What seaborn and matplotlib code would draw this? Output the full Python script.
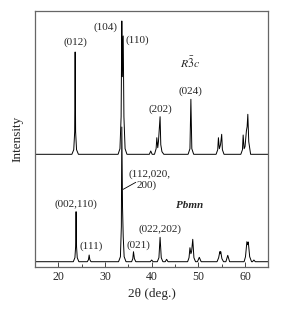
import numpy as np
import pandas as pd
import seaborn as sns
import matplotlib
matplotlib.use("Agg")
import matplotlib.pyplot as plt
from matplotlib.ticker import MultipleLocator

# traced points of the two XRD patterns (2theta, intensity in arbitrary units)
r3c_2theta = [15, 22.9, 23.3, 23.5, 23.6, 23.7, 23.9, 24.3,
              32.8, 33.2, 33.45, 33.6, 33.72, 33.9, 34.05, 34.3, 34.7,
              39.5, 39.8, 40.1,
              40.6, 40.95, 41.1, 41.3, 41.45, 41.8, 41.95, 42.2, 42.6,
              47.8, 48.2, 48.4, 48.6, 49.0,
              53.8, 54.15, 54.3, 54.5, 54.75, 55.0, 55.15, 55.5,
              59.1, 59.45, 59.6, 59.8, 60.0, 60.3, 60.45, 60.6, 60.8, 61.2,
              65]
r3c_int = [112.4, 112.4, 117, 135, 214.7, 135, 117, 112.4,
           112.4, 118, 150, 245.7, 190, 230.7, 150, 118, 112.4,
           112.4, 115.7, 112.4,
           112.4, 118, 129, 119, 125, 150, 122, 115, 112.4,
           112.4, 118, 167.4, 118, 112.4,
           112.4, 117, 129, 118, 122, 132.4, 117, 112.4,
           112.4, 117, 131.7, 118, 120, 136, 140, 152.4, 125, 112.4,
           112.4]

pbmn_2theta = [15, 23.2, 23.55, 23.7, 23.8, 23.9, 24.05, 24.4,
               26.2, 26.45, 26.6, 26.75, 27.0,
               32.9, 33.3, 33.5, 33.6, 33.75, 33.9, 34.1, 34.5,
               35.7, 35.95, 36.1, 36.3, 36.6,
               39.7, 40.0, 40.3,
               41.2, 41.55, 41.8, 42.05, 42.4,
               42.9, 43.2, 43.5,
               47.7, 48.0, 48.2, 48.4, 48.55, 48.8, 49.05, 49.4,
               49.8, 50.2, 50.6,
               54.0, 54.35, 54.6, 54.7, 54.8, 55.05, 55.4,
               55.9, 56.3, 56.7,
               59.8, 60.1, 60.4, 60.55, 60.7, 61.0, 61.4,
               61.6, 61.9, 62.2,
               65]
pbmn_int = [5, 5, 9, 20, 55, 20, 9, 5,
            5, 7, 11.7, 7, 5,
            5, 10, 40, 139.7, 60, 30, 10, 5,
            5, 8, 15, 8, 5,
            5, 6.7, 5,
            5, 9, 29.4, 9, 5,
            5, 7.4, 5,
            5, 9, 19, 13, 15, 27.4, 9, 5,
            5, 9.4, 5,
            5, 9, 15, 13, 15, 8, 5,
            5, 11.4, 5,
            5, 10, 25, 22, 24.7, 10, 5,
            5, 6.7, 5,
            5]

# peak labels: text, 2theta, intensity
r3c_labels = [("(012)", 23.6, 224.7), ("(104)", 30.1, 239.7), ("(110)", 37.0, 226.7),
              ("(202)", 41.8, 157.7), ("(024)", 48.4, 175.7)]
pbmn_labels = [("(002,110)", 23.8, 62.4), ("(111)", 27.0, 21.0),
               ("(021)", 37.1, 21.7), ("(022,202)", 41.8, 37.4)]

sns.set_theme(style="ticks")
plt.rcParams["font.family"] = ["Liberation Serif", "DejaVu Serif"]
plt.rcParams["mathtext.fontset"] = "stix"

df = pd.concat([
    pd.DataFrame({"x": r3c_2theta, "y": r3c_int, "phase": "R3c"}),
    pd.DataFrame({"x": pbmn_2theta, "y": pbmn_int, "phase": "Pbmn"}),
])

fig = plt.figure(figsize=(2.81, 3.11), dpi=100)
ax = fig.add_axes([0.1246, 0.1424, 0.8304, 0.8213])
sns.lineplot(data=df, x="x", y="y", units="phase", estimator=None, sort=False,
             color="black", lw=0.7, ax=ax)

ax.set_xlim(15, 65)
ax.set_ylim(0, 255.4)
ax.xaxis.set_major_locator(MultipleLocator(10))
ax.xaxis.set_minor_locator(MultipleLocator(5))
ax.set_yticks([])
ax.tick_params(axis="x", which="both", direction="in", top=False, labelsize=8.5,
               pad=3, color="#444444")
ax.tick_params(axis="x", which="major", length=3.5, width=0.7)
ax.tick_params(axis="x", which="minor", length=2.5, width=0.7)
for s in ax.spines.values():
    s.set_color("#666666")
    s.set_linewidth(0.9)

ax.set_xlabel("2θ (deg.)", fontsize=9.5, labelpad=4)
ax.set_ylabel("Intensity", fontsize=9.5, labelpad=8)

fs = 8
for t, x, y in r3c_labels + pbmn_labels:
    ax.text(x, y, t, ha="center", va="center", fontsize=fs)
ax.text(48.2, 203.7, r"$R\bar{3}c$", ha="center", va="center", fontsize=fs + 0.5)
ax.text(48.2, 61.7, "Pbmn", ha="center", va="center", fontsize=fs,
        style="italic", weight="bold")
ax.text(35.0, 92.7, "(112,020,", ha="left", va="center", fontsize=fs)
ax.text(36.8, 81.7, "200)", ha="left", va="center", fontsize=fs)
ax.plot([33.9, 36.6], [77.4, 84.4], color="black", lw=0.6)

fig.savefig("out.png", dpi=100)
